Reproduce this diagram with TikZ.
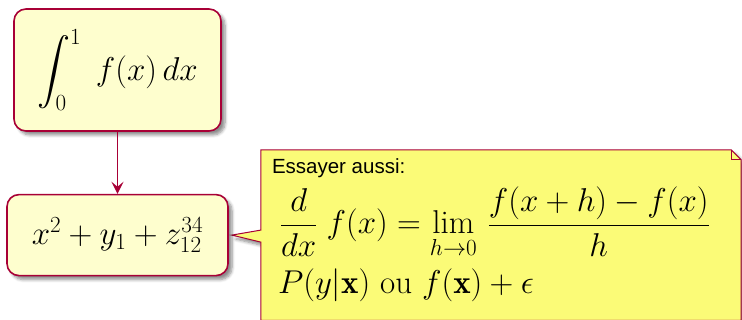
\documentclass[tikz,border=0pt]{standalone}
\usepackage{fix-cm}
\usepackage{amsmath,amssymb}
\usepackage{fontspec}
\newfontfamily\notefont{Liberation Sans}
\usetikzlibrary{arrows.meta,positioning,calc,backgrounds,shadows.blur}
\definecolor{BoxFill}{HTML}{FEFECE}
\definecolor{BoxLine}{HTML}{A80036}
\definecolor{NoteFill}{HTML}{FBFB77}
\tikzset{
  softshadow/.style={blur shadow={shadow xshift=4pt,shadow yshift=-4pt,shadow blur steps=6,shadow blur radius=3pt,shadow opacity=45}},
  activity/.style={draw=BoxLine,fill=BoxFill,line width=1.6pt,rounded corners=12pt,align=center,font=\fontsize{33}{38}\selectfont,softshadow},
  noteshape/.style={draw=BoxLine,fill=NoteFill,line width=1pt,softshadow},
  noteline/.style={anchor=base west,inner sep=0pt,font=\fontsize{33}{38}\selectfont},
  flow/.style={-{Stealth[length=12pt,width=12pt,inset=5pt]},draw=BoxLine,line width=1.6pt}
}

\begin{document}
\begin{tikzpicture}[x=1pt,y=1pt,node distance=62pt]
  \useasboundingbox (0,0) rectangle (742,-320);
  \node[activity,minimum width=207pt,minimum height=122pt] (integral) at (117.5,-70) {$\displaystyle\int_0^1 \; f(x)\,dx$};
  \node[activity,minimum width=221pt,minimum height=81pt,below=of integral] (sum) {$x^2+y_1+z_{12}^{34}$};
  \draw[flow] (integral.south) -- (integral.south |- sum.north);
  % note frame and its three lines
  \node[right=32pt of sum,minimum width=480pt,minimum height=170pt,inner sep=0pt] (note) {};
  \coordinate (tip) at ([xshift=3pt]sum.east);
  \begin{scope}[on background layer]
    \draw[noteshape] (note.north west) -- ([xshift=-10pt]note.north east) -- ([yshift=-10pt]note.north east)
      -- (note.south east) -- (note.south west) -- ([yshift=-7pt]note.west) -- (tip)
      -- ([yshift=5pt]note.west) -- cycle;
    \draw[draw=BoxLine,line width=1pt] ([xshift=-10pt]note.north east) |- ([yshift=-10pt]note.north east);
  \end{scope}
  \node[noteline,font=\notefont\fontsize{20.5}{24}\selectfont] (caption) at ([shift={(11pt,-24pt)}]note.north west) {Essayer aussi:};
  \node[noteline] (deriv) at ([shift={(19pt,-84pt)}]note.north west)
    {$\displaystyle\frac{d}{dx}\;f(x)=\lim_{h\to 0}\,\frac{f(x+h)-f(x)}{h}$};
  \node[noteline] (prob) at ([shift={(17pt,-144pt)}]note.north west)
    {$P(y|\mathbf{x})\mbox{ ou }f(\mathbf{x})+\epsilon$};
\end{tikzpicture}
\end{document}
